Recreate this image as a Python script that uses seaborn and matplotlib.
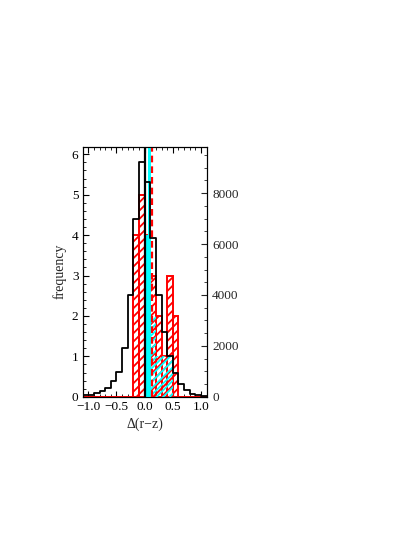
import numpy as np
import pandas as pd
import matplotlib
matplotlib.use("Agg")
import matplotlib.pyplot as plt
import seaborn as sns
from matplotlib.ticker import MultipleLocator

# ---- data ----
bin_edges = [-1.1, -1.0, -0.9, -0.8, -0.7, -0.6, -0.5, -0.4, -0.3, -0.2, -0.1,
             0.0, 0.1, 0.2, 0.3, 0.4, 0.5, 0.6, 0.7, 0.8, 0.9, 1.0, 1.1]
# full sample, counts on the right axis
black_counts = [60, 60, 140, 220, 350, 620, 990, 1910, 3990, 7000, 9210,
                8430, 6230, 3990, 2540, 1590, 950, 510, 250, 110, 60, 30]
# red subsample, frequency on the left axis
red_freq = [0, 0, 0, 0, 0, 0, 0, 0, 0, 4, 5,
            4, 3, 2, 1, 3, 2, 0, 0, 0, 0, 0]
# cyan subsample, frequency on the left axis
cyan_freq = [0, 0, 0, 0, 0, 0, 0, 0, 0, 0, 0,
             4, 2, 1, 1, 1, 0, 0, 0, 0, 0, 0]
cyan_solid = [0, 0, 0, 0, 0, 0, 0, 0, 0, 0, 0,
              4, 0, 0, 0, 0, 0, 0, 0, 0, 0, 0]
black_mean = 0.01
cyan_mean = 0.08
red_mean = 0.13

xticks = [-1.0, -0.5, 0.0, 0.5, 1.0]
xticklabels = ["\u22121.0", "\u22120.5", "0.0", "0.5", "1.0"]
yticks_left = [0, 1, 2, 3, 4, 5, 6]
yticks_right = [0, 2000, 4000, 6000, 8000]

edges = np.array(bin_edges)
centers = (edges[:-1] + edges[1:]) / 2
df = pd.DataFrame({"x": centers, "black": black_counts, "red": red_freq,
                   "cyan": cyan_freq, "cyan_solid": cyan_solid})

sns.set_theme(style="ticks")
plt.rcParams["font.family"] = ["Liberation Serif", "DejaVu Serif"]
plt.rcParams["hatch.linewidth"] = 1.3
plt.rcParams["axes.linewidth"] = 0.8

fig = plt.figure(figsize=(4.15, 5.45), dpi=100)
ax = fig.add_axes([0.199, 0.272, 0.299, 0.459])

sns.histplot(data=df, x="x", weights="red", bins=list(bin_edges), element="bars",
             fill=True, facecolor="none", edgecolor="red", hatch="////",
             linewidth=1.4, ax=ax, zorder=2)
sns.histplot(data=df[df["cyan_solid"] > 0], x="x", weights="cyan_solid",
             bins=[0.0, 0.1], element="bars", fill=True, facecolor="cyan",
             edgecolor="cyan", linewidth=0, ax=ax, zorder=3)
sns.histplot(data=df[df["cyan"] > 0], x="x", weights="cyan", bins=list(bin_edges),
             element="bars", fill=True, facecolor="none", edgecolor="cyan",
             hatch="/////", linewidth=0, ax=ax, zorder=3)

ax.axvline(cyan_mean, color="cyan", lw=2.2, zorder=4)
ax.axvline(red_mean, color="red", lw=1.6, ls=(0, (3, 1.8)), zorder=4)

ax2 = ax.twinx()
sns.histplot(data=df, x="x", weights="black", bins=list(bin_edges), element="step",
             fill=False, color="black", linewidth=1.3, ax=ax2)
ax2.axvline(black_mean, color="black", lw=1.6)

ax.set_xlim(-1.1, 1.1)
ax.set_ylim(0, 6.19)
ax2.set_ylim(0, 9830)

ax.set_xticks(xticks)
ax.set_xticklabels(xticklabels)
ax.set_yticks(yticks_left)
ax2.set_yticks(yticks_right)
ax.xaxis.set_minor_locator(MultipleLocator(0.1))
ax.yaxis.set_minor_locator(MultipleLocator(0.2))
ax2.yaxis.set_minor_locator(MultipleLocator(500))

ax.tick_params(axis="both", which="both", direction="in", top=True,
               right=False, labelsize=9.5, colors="black", pad=3)
ax.tick_params(which="major", length=4.5, width=0.8)
ax.tick_params(which="minor", length=2.2, width=0.6)
ax2.tick_params(axis="y", which="both", direction="in", labelsize=9.5, pad=4)
ax2.tick_params(which="major", length=4.5, width=0.8)
ax2.tick_params(which="minor", length=2.2, width=0.6)

ax.set_xlabel("\u0394(r\u2212z)", fontsize=10, labelpad=3)
ax.set_ylabel("frequency", fontsize=10, labelpad=4)
ax2.set_ylabel("")
ax2.set_xlabel("")

for a in (ax, ax2):
    for s in a.spines.values():
        s.set_visible(True)
        s.set_color("black")
        s.set_linewidth(0.8)

fig.savefig("out.png", dpi=100, facecolor="white")
